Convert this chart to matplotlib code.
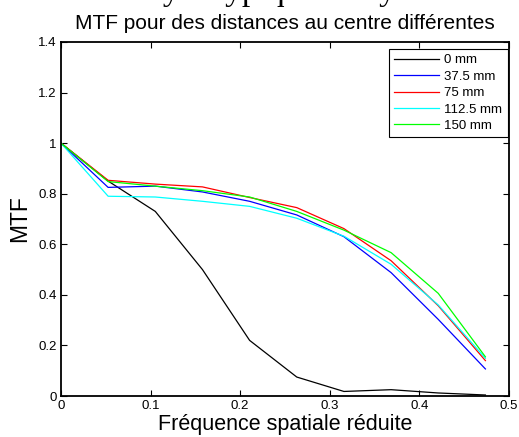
"""
MTF curves for several distances from the centre.
"""

import matplotlib
matplotlib.use("Agg")
import matplotlib.pyplot as plt
from matplotlib.ticker import FuncFormatter

plt.rcParams["font.family"] = ["Liberation Sans", "DejaVu Sans"]

freq = [0, 1/19, 2/19, 3/19, 4/19, 5/19, 6/19, 7/19, 8/19, 9/19]

mtf_0 = [1.0, 0.85, 0.73, 0.50, 0.22, 0.075, 0.018, 0.025, 0.012, 0.004]
mtf_37 = [1.0, 0.825, 0.83, 0.807, 0.77, 0.716, 0.63, 0.488, 0.303, 0.107]
mtf_75 = [1.0, 0.853, 0.838, 0.827, 0.785, 0.745, 0.662, 0.535, 0.357, 0.14]
mtf_112 = [1.0, 0.79, 0.787, 0.77, 0.75, 0.703, 0.632, 0.521, 0.36, 0.149]
mtf_150 = [1.0, 0.848, 0.83, 0.812, 0.787, 0.73, 0.656, 0.567, 0.406, 0.155]

labels = ["0 mm", "37.5 mm", "75 mm", "112.5 mm", "150 mm"]
colors = ["black", "blue", "red", "cyan", "lime"]
series = [mtf_0, mtf_37, mtf_75, mtf_112, mtf_150]

fig = plt.figure(figsize=(5.19, 4.37), dpi=100)
ax = fig.add_axes([0.1175, 0.0938, 0.8632, 0.8101])

for values, color, label in zip(series, colors, labels):
    ax.plot(freq, values, color=color, linewidth=0.9, label=label)

ax.set_xlim(0, 0.5)
ax.set_ylim(0, 1.4)
ax.set_xticks([0, 0.1, 0.2, 0.3, 0.4, 0.5])
ax.set_yticks([0, 0.2, 0.4, 0.6, 0.8, 1.0, 1.2, 1.4])
fmt = FuncFormatter(lambda v, pos: f"{v:g}")
ax.xaxis.set_major_formatter(fmt)
ax.yaxis.set_major_formatter(fmt)
ax.tick_params(direction="in", top=True, right=True, length=4, width=0.8,
               labelsize=9.5, pad=3)
for spine in ax.spines.values():
    spine.set_linewidth(1.3)

ax.set_title("MTF pour des distances au centre différentes", fontsize=15, pad=9)
ax.set_xlabel("Fréquence spatiale réduite", fontsize=15.5, labelpad=1)
ax.set_ylabel("MTF", fontsize=16.5, labelpad=5)

leg = ax.legend(loc="upper right", fontsize=9.5, frameon=True, fancybox=False,
                edgecolor="black", framealpha=1, handlelength=3.4,
                handletextpad=0.4, borderpad=0.4, labelspacing=0.32,
                borderaxespad=0, bbox_to_anchor=(0.997, 0.981))
leg.get_frame().set_linewidth(0.8)

# caption above the figure, cut by the top edge as in the original
fig.text(0.55, 1.001, "Analyse typique du système", family="Liberation Serif",
         fontsize=24, ha="center", va="baseline")

fig.savefig("out.png", dpi=100)
plt.close(fig)
